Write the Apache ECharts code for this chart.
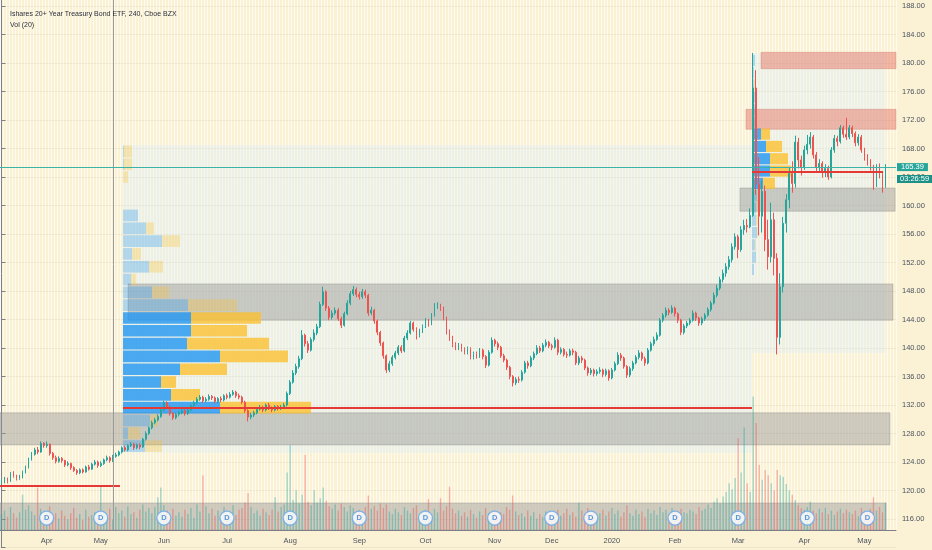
<!DOCTYPE html>
<html>
<head>
<meta charset="utf-8">
<title>TLT 240</title>
<script src="https://cdn.jsdelivr.net/npm/echarts@6.0.0/dist/echarts.min.js"></script>
<style>
    html, body { margin: 0; padding: 0; background: #fbf2d6; }
    #main__chart { width: 932px; height: 550px; }
</style>
</head>
<body>
<div id="main__chart"></div>
<script>
const TITLE = 'Ishares 20+ Year Treasury Bond ETF, 240, Cboe BZX';
const SUBTITLE = 'Vol (20)';
const LAST_PRICE = 165.39;
const COUNTDOWN = '03:26:59';
const FIRST_OPEN = 121.0;
const N_SLOTS = 298; // bars + empty space on the right

// x axis: month labels and the bar index where each month starts
const monthNames = ['Apr', 'May', 'Jun', 'Jul', 'Aug', 'Sep', 'Oct', 'Nov', 'Dec', '2020', 'Feb', 'Mar', 'Apr', 'May'];
const monthIdx = [15, 33, 54, 75, 96, 119, 141, 164, 183, 203, 224, 245, 267, 287];

// y axis ticks
const PRICE_MIN = 112;
const PRICE_MAX = 192;
const PRICE_STEP = 4;

const closes = [
    121.2,121.6,121.3,122.4,122.0,121.7,121.9,122.6,123.3,124.4,
    125.1,125.7,125.4,126.6,126.3,126.5,125.2,124.6,124.1,124.5,
    124.2,123.6,123.8,123.2,122.8,122.5,122.9,122.6,123.3,123.0,
    123.7,124.0,123.5,123.8,124.3,124.6,124.2,124.8,125.0,125.4,
    126.0,125.7,126.3,126.5,126.0,126.4,126.1,127.2,128.0,128.8,
    129.5,129.9,130.4,131.3,132.3,131.7,130.8,130.2,130.7,130.9,
    131.2,130.8,131.3,131.9,132.3,132.8,133.1,132.6,132.8,133.2,
    133.0,132.5,132.9,132.7,133.3,133.1,133.5,133.8,133.3,133.1,
    132.4,131.2,130.3,130.6,130.9,131.4,131.7,131.3,132.0,131.6,
    131.3,131.8,131.5,131.7,132.0,133.6,135.2,136.5,137.4,138.5,
    141.8,140.6,139.7,141.2,142.1,143.0,146.1,147.9,145.6,144.3,
    144.9,145.3,144.1,143.2,144.8,146.3,147.6,148.2,147.5,147.2,
    147.9,147.4,144.9,145.3,143.8,142.2,140.7,138.9,136.9,137.8,
    138.7,139.3,140.1,139.6,141.4,142.1,143.5,142.6,141.8,142.4,
    143.0,143.9,143.4,144.6,145.8,146.0,145.6,144.2,142.3,141.4,
    140.5,140.0,140.4,139.8,139.4,139.9,138.7,139.2,138.9,139.7,
    138.8,137.6,139.4,141.1,140.6,140.1,138.9,138.3,137.3,136.0,
    135.1,135.6,135.5,136.6,137.9,137.5,138.6,139.2,140.0,139.6,
    140.4,140.8,140.3,140.1,141.1,139.4,139.8,139.1,139.0,139.6,
    139.4,137.9,138.6,138.3,137.2,136.5,136.9,136.4,136.7,136.9,
    136.3,136.8,135.8,136.9,137.8,139.0,138.6,137.4,136.2,137.1,
    137.9,138.7,139.3,138.5,137.9,139.7,140.6,141.2,141.8,143.9,
    144.6,145.3,145.0,145.6,144.8,143.9,142.2,143.1,143.5,143.9,
    144.9,144.2,143.5,144.1,144.6,145.4,146.3,147.4,148.4,149.6,
    150.5,151.4,152.4,154.2,155.6,153.8,156.6,157.2,157.0,158.6,
    176.5,163.0,158.5,162.0,155.2,152.8,158.0,152.6,141.5,148.6,
    157.5,160.8,164.5,163.1,168.9,166.4,165.4,167.8,168.6,169.6,
    167.1,165.4,165.9,164.7,165.2,164.0,167.8,169.4,169.0,170.9,
    170.0,169.6,170.9,170.1,168.8,169.6,167.8,166.8,166.1,165.4,
    162.9,165.4,164.3,162.8,165.39
];

const highs = [
    121.6,121.9,121.8,122.6,122.7,122.2,122.2,122.8,123.5,124.6,
    125.4,126.0,126.1,126.9,126.8,126.9,126.6,125.4,124.9,124.8,
    124.7,124.3,124.1,123.9,123.4,123.0,123.1,123.1,123.5,123.6,
    123.9,124.3,124.2,124.1,124.5,124.9,124.8,125.0,125.3,125.6,
    126.2,126.3,126.5,126.8,126.7,126.6,126.6,127.4,128.3,129.0,
    129.8,130.2,130.7,131.6,132.6,132.5,131.9,131.0,130.9,131.2,
    131.5,131.4,131.6,132.1,132.6,133.1,133.4,133.3,133.1,133.5,
    133.4,133.2,133.1,133.2,133.5,133.6,133.8,134.1,134.0,133.6,
    133.3,132.6,131.4,130.9,131.2,131.7,132.0,131.9,132.2,132.3,
    131.8,132.0,132.0,132.0,132.3,133.9,135.5,136.9,137.8,138.9,
    142.5,142.0,141.0,141.5,142.6,143.4,146.5,148.6,148.1,145.9,
    145.3,145.7,145.6,144.4,145.1,146.7,148.0,148.7,148.5,147.9,
    148.3,148.2,147.6,145.8,145.5,144.0,142.4,140.9,139.1,138.2,
    139.0,139.6,140.4,140.4,141.7,142.5,143.8,143.7,142.9,142.7,
    143.3,144.2,144.1,144.9,146.3,146.4,146.2,145.8,144.4,142.6,
    141.7,140.8,140.7,140.6,140.1,140.2,140.1,139.5,139.5,140.0,
    139.9,139.0,139.7,141.5,141.3,140.9,140.3,139.2,138.5,137.5,
    136.2,135.9,136.0,136.9,138.2,138.2,138.9,139.5,140.4,140.3,
    140.7,141.2,141.0,140.6,141.5,141.3,140.1,140.0,139.5,139.9,
    139.9,139.6,138.9,138.9,138.5,137.4,137.2,137.1,137.0,137.3,
    137.1,137.1,137.0,137.2,138.1,139.4,139.3,138.8,137.6,137.4,
    138.2,139.0,139.7,139.5,138.8,140.0,140.9,141.6,142.2,144.2,
    144.9,145.7,145.6,146.0,145.8,145.0,144.1,143.4,143.8,144.2,
    145.3,145.1,144.4,144.4,144.9,145.7,146.6,147.8,148.9,150.0,
    151.0,151.9,152.9,154.7,156.1,155.9,157.1,158.0,158.1,159.6,
    181.4,179.0,166.8,163.5,162.8,158.0,160.4,159.0,153.3,150.5,
    158.4,161.6,165.3,166.2,169.8,169.5,167.0,168.4,169.9,170.3,
    169.9,167.5,166.5,166.2,165.8,165.6,168.2,169.9,169.8,171.3,
    171.2,172.3,171.3,171.2,170.4,170.0,169.9,168.1,167.2,166.5,
    165.7,165.8,165.9,164.6,165.8
];

const lows = [
    120.8,121.0,121.0,121.2,121.8,121.4,121.5,121.7,122.4,123.1,
    124.2,124.9,125.1,125.3,126.0,126.0,124.9,124.3,123.8,123.9,
    123.9,123.3,123.4,122.9,122.6,122.2,122.3,122.4,122.5,122.8,
    122.9,123.5,123.2,123.3,123.6,124.1,123.9,124.0,124.6,124.8,
    125.2,125.5,125.5,126.1,125.7,125.8,125.8,126.0,127.0,127.8,
    128.6,129.3,129.7,130.2,131.1,131.4,130.5,129.9,130.0,130.4,
    130.7,130.5,130.6,131.1,131.7,132.1,132.6,132.3,132.4,132.6,
    132.7,132.2,132.3,132.4,132.5,132.8,132.9,133.3,133.0,132.8,
    132.1,130.9,129.7,130.0,130.3,130.7,131.2,131.0,131.1,131.3,
    131.0,131.1,131.2,131.3,131.5,131.8,133.4,135.0,136.2,137.1,
    138.3,140.2,139.3,139.5,140.9,141.8,142.8,145.9,145.2,143.9,
    144.0,144.6,143.8,142.8,143.0,144.6,146.0,147.3,147.1,146.8,
    146.9,147.0,144.5,144.6,143.4,141.8,140.3,138.5,136.5,136.6,
    137.5,138.4,139.0,139.3,139.4,141.1,141.9,142.3,141.2,141.5,
    142.1,142.8,143.0,143.2,144.4,145.5,145.2,143.9,141.9,141.0,
    140.1,139.7,139.7,139.5,139.1,139.1,138.4,138.4,138.5,138.6,
    138.4,137.2,137.4,139.2,140.2,139.7,138.6,138.0,136.9,135.6,
    134.6,134.8,135.1,135.3,136.4,137.1,137.3,138.3,139.0,139.3,
    139.4,140.1,140.0,139.7,139.9,139.0,139.1,138.8,138.6,138.8,
    139.0,137.6,137.6,137.9,136.9,136.1,136.2,136.0,136.1,136.4,
    135.9,136.0,135.4,135.6,136.7,137.6,138.2,137.1,135.8,135.9,
    136.8,137.7,138.4,138.2,137.5,137.7,139.5,140.3,141.0,141.6,
    143.6,144.3,144.6,144.8,144.4,143.5,141.8,141.9,142.8,143.2,
    143.7,143.8,143.1,143.2,143.8,144.4,145.1,146.1,147.1,148.1,
    149.2,150.0,151.0,152.0,153.8,152.6,153.5,155.9,156.2,156.8,
    158.4,161.5,155.8,156.2,153.6,151.0,152.0,150.2,139.1,140.5,
    147.8,156.2,159.6,161.8,162.5,165.2,164.2,165.0,167.2,168.0,
    166.6,164.8,164.6,163.9,164.0,163.6,163.8,167.4,168.3,168.7,
    169.5,169.2,169.3,169.6,168.3,168.4,167.4,166.3,165.6,164.9,
    162.2,162.6,163.8,161.8,162.5
];

// volume, millions of shares
const volumes = [
    1.8,2.2,1.5,2.6,1.9,1.4,2.0,4.0,2.3,2.8,
    2.1,1.7,4.8,2.4,1.6,2.0,2.7,1.5,1.9,1.3,
    2.2,1.6,1.2,1.9,2.5,1.4,1.8,1.1,2.3,1.5,
    1.7,2.0,1.3,4.9,2.1,1.6,2.4,1.2,2.6,1.9,
    2.2,1.5,2.7,1.8,2.0,1.4,2.3,2.9,2.1,2.5,
    1.9,2.6,3.7,4.8,2.8,2.2,1.7,2.4,1.6,2.0,
    1.5,2.3,1.8,2.5,1.4,2.9,2.1,6.2,2.7,1.9,
    2.4,1.6,2.2,1.3,2.6,1.8,2.0,2.8,1.7,2.3,
    2.5,3.1,4.2,2.6,1.9,2.2,1.6,2.4,2.0,1.7,
    2.3,3.7,2.1,2.6,2.9,6.5,9.6,3.4,4.5,3.0,
    4.0,8.5,3.2,2.8,4.5,3.1,3.6,4.8,3.3,2.7,
    2.4,2.9,2.2,3.0,2.6,2.1,2.8,2.5,1.9,2.3,
    2.0,2.6,3.9,2.4,2.7,2.2,3.0,2.5,2.9,2.1,
    1.8,2.4,2.0,1.7,2.6,2.2,1.9,2.5,2.8,1.6,
    2.1,2.3,3.5,1.8,2.4,2.0,3.6,2.2,2.7,4.9,
    2.4,1.9,2.2,1.6,2.0,1.5,2.3,1.8,1.4,2.1,
    1.7,2.5,1.9,1.6,2.2,1.4,2.0,1.8,2.6,2.3,
    3.9,2.1,1.7,1.9,1.5,2.2,1.6,2.0,1.3,1.8,
    1.5,2.1,1.4,1.2,1.8,2.3,1.6,1.9,2.4,1.7,
    2.0,1.5,3.1,2.2,1.8,2.5,1.4,2.0,1.7,1.9,
    2.3,1.6,2.1,2.5,1.8,2.2,1.5,2.0,2.8,1.9,
    1.6,2.3,1.8,2.1,1.5,2.4,1.9,2.2,1.7,2.6,
    2.0,2.3,1.8,2.5,2.1,1.7,2.4,2.0,1.9,2.3,
    2.1,1.8,2.6,2.2,2.4,2.9,2.5,3.2,3.6,3.0,
    3.8,4.3,5.3,4.6,5.9,10.4,6.5,11.6,5.3,4.3,
    15.1,12.1,7.4,5.7,6.8,6.2,5.3,4.5,6.8,6.2,
    6.0,5.2,4.5,4.0,3.4,2.8,2.5,2.3,2.6,3.2,
    2.2,1.9,2.4,2.0,2.5,1.8,2.2,1.7,2.1,2.4,
    1.9,2.3,2.0,1.8,2.2,1.6,2.5,2.1,1.9,2.4,
    3.7,2.2,2.6,2.0,3.1
];
const VOL_MAX = 60;

// dividend markers (bar index)
const dividendIdx = [15, 33, 54, 75, 96, 119, 141, 164, 183, 196, 224, 245, 268, 288];

// fixed range volume profiles, rows from top to bottom
const vp1Up =   [1, 1, 0, 0, 0, 15, 23, 39, 9, 26, 8, 29, 65, 68, 68, 64, 97, 57, 38, 48, 97, 27, 5, 22];
const vp1Down = [8, 8, 5, 0, 0, 0, 8, 18, 9, 14, 5, 17, 49, 70, 56, 82, 68, 47, 15, 29, 91, 8, 12, 17];
const vp1ValueArea = [13, 20];
const vp2Up =   [3, 2, 2, 3, 3, 4, 9, 14, 18, 18, 11, 5, 4, 4, 5, 3, 4, 2];
const vp2Down = [0, 0, 1, 0, 1, 1, 9, 16, 18, 21, 12, 3, 1, 2, 1, 1, 0, 0];
const vp2ValueArea = [6, 10];

// drawings: [fromBar, toBar, topPrice, bottomPrice]
const rangeZones = [[40.4, 249.6, 168.5, 125.3], [249.6, 293.8, 181.4, 139.3]];
const grayZones = [
    [-0.5, 295.5, 130.9, 126.4],
    [42.1, 296.5, 149.0, 143.9],
    [245.6, 297.2, 162.45, 159.2],
    [-0.5, 294.2, 118.25, 114.45],
];
const redZones = [[252.6, 297.5, 181.5, 179.2], [247.6, 297.5, 173.5, 170.7]];
// [fromBar, toBar, price]
const redLines = [[-0.5, 39.4, 120.6], [40.4, 249.6, 131.55], [249.6, 293.2, 164.7]];
const crossBar = 37.1;

const UP = '#26a69a';
const DOWN = '#ef5350';
const FONT = 'Liberation Sans, Arial, sans-serif';
const TEXT_COLOR = '#4c525e';

$ready(function () {
    initMainChart();
});

function $ready(fn) {
    if (document.readyState !== 'loading') fn();
    else document.addEventListener('DOMContentLoaded', fn);
}

function zone(z, style) {
    return [{coord: [z[0], z[2]], itemStyle: style}, {coord: [z[1], z[3]]}];
}

function vpData(values, va, strong, pale) {
    return values.map((v, i) => ({
        value: v,
        itemStyle: {color: (i >= va[0] && i <= va[1]) ? strong : pale},
    }));
}

function initMainChart() {
    let chartDom = document.getElementById('main__chart');
    let myChart = echarts.init(chartDom, null, {renderer: 'canvas'});

    const slots = Array.from({length: N_SLOTS}, (_, i) => String(i));
    // each bar opens where the previous one closed
    const opens = closes.map((c, i) => i === 0 ? FIRST_OPEN : closes[i - 1]);
    const candles = closes.map((c, i) => [opens[i], c, lows[i], highs[i]]);
    const volData = volumes.map((v, i) => ({
        value: v,
        itemStyle: {color: closes[i] >= opens[i] ? 'rgba(38,166,154,0.42)' : 'rgba(239,83,80,0.42)'},
    }));

    const grayStyle = {color: 'rgba(150,150,148,0.46)', borderColor: 'rgba(120,120,120,0.3)', borderWidth: 1};
    const redStyle = {color: 'rgba(228,112,96,0.48)', borderColor: 'rgba(200,100,90,0.3)', borderWidth: 1};

    const lastPriceLine = [
        {
            coord: [-0.5, LAST_PRICE],
            lineStyle: {color: '#3bb3a6', width: 1, type: 'solid'},
            label: {
                show: true,
                position: 'end',
                distance: 1,
                formatter: `{e|${COUNTDOWN}}\n{a|${LAST_PRICE.toFixed(2)}}\n{b|${COUNTDOWN}}`,
                rich: {
                    e: {color: 'transparent', fontSize: 7.5, lineHeight: 12, padding: [0, 3]},
                    a: {color: '#fff', backgroundColor: UP, fontSize: 7.5, lineHeight: 12, padding: [0, 4], fontFamily: FONT},
                    b: {color: '#fff', backgroundColor: '#1e9187', fontSize: 7.5, lineHeight: 12, padding: [0, 3], fontFamily: FONT},
                },
            },
        },
        {coord: [N_SLOTS - 0.5, LAST_PRICE]},
    ];

    let option = {
        animation: false,
        backgroundColor: '#fbf2d6',
        textStyle: {fontFamily: FONT},
        title: {
            text: TITLE,
            subtext: SUBTITLE,
            left: 5,
            top: 4,
            itemGap: 1,
            textStyle: {fontSize: 7, fontWeight: 'normal', color: '#2a2e39', fontFamily: FONT, lineHeight: 10},
            subtextStyle: {fontSize: 7, color: '#2a2e39', fontFamily: FONT, lineHeight: 10},
        },
        grid: [
            {left: 0, right: 36, top: -22.5, bottom: 2.5, outerBoundsMode: 'none'},
            {left: 0, right: 36, top: 0, bottom: 20, outerBoundsMode: 'none'},
            {left: 123, top: 145, width: 400, height: 307.5, outerBoundsMode: 'none'},
            {left: 752, top: 54.2, width: 144, height: 221.4, outerBoundsMode: 'none'},
        ],
        xAxis: [
            {type: 'category', gridIndex: 0, data: slots, show: false},
            {type: 'value', gridIndex: 0, min: -0.5, max: N_SLOTS - 0.5, show: false},
            {
                type: 'category',
                gridIndex: 1,
                data: slots,
                axisLine: {lineStyle: {color: '#7d8089', width: 1}},
                axisTick: {show: false},
                axisLabel: {
                    interval: (i) => monthIdx.includes(i),
                    formatter: (value) => monthNames[monthIdx.indexOf(Number(value))] || '',
                    color: TEXT_COLOR,
                    fontSize: 7.5,
                    margin: 7,
                },
                splitLine: {show: true, interval: 0, lineStyle: {color: 'rgba(255,255,255,0.6)', width: 1}},
            },
            {type: 'value', gridIndex: 2, min: 0, max: 400, show: false},
            {type: 'value', gridIndex: 3, min: 0, max: 144, show: false},
        ],
        yAxis: [
            {
                type: 'value',
                gridIndex: 0,
                position: 'right',
                min: PRICE_MIN,
                max: PRICE_MAX,
                interval: PRICE_STEP,
                axisLine: {show: true, lineStyle: {color: '#7d8089'}},
                axisTick: {show: true, length: 4, lineStyle: {color: '#7d8089'}},
                axisLabel: {
                    color: TEXT_COLOR,
                    fontSize: 7.5,
                    margin: 6,
                    // lowest tick sits under the date scale, leave it blank
                    formatter: (v) => v <= PRICE_MIN ? '' : v.toFixed(2),
                },
                splitLine: {show: true, lineStyle: {color: 'rgba(190,175,140,0.2)'}},
            },
            {type: 'value', gridIndex: 1, min: 0, max: VOL_MAX, show: false},
            {type: 'category', gridIndex: 2, data: vp1Up.map((_, i) => i), inverse: true, show: false},
            {type: 'category', gridIndex: 3, data: vp2Up.map((_, i) => i), inverse: true, show: false},
        ],
        series: [
            {
                // profile ranges
                type: 'line',
                xAxisIndex: 1,
                yAxisIndex: 0,
                data: [],
                z: 1,
                markArea: {
                    silent: true,
                    data: rangeZones.map(z => zone(z, {color: 'rgba(210,238,255,0.28)'})),
                },
            },
            {
                name: 'Vol',
                type: 'bar',
                xAxisIndex: 2,
                yAxisIndex: 1,
                data: volData,
                barWidth: '45%',
                z: 2,
            },
            {
                type: 'bar', xAxisIndex: 3, yAxisIndex: 2, stack: 'vp1', barCategoryGap: '9%', z: 2,
                data: vpData(vp1Up, vp1ValueArea, 'rgba(33,150,243,0.8)', 'rgba(33,150,243,0.3)'),
            },
            {
                type: 'bar', xAxisIndex: 3, yAxisIndex: 2, stack: 'vp1', barCategoryGap: '9%', z: 2,
                data: vpData(vp1Down, vp1ValueArea, 'rgba(251,192,45,0.78)', 'rgba(251,192,45,0.3)'),
            },
            {
                type: 'bar', xAxisIndex: 4, yAxisIndex: 3, stack: 'vp2', barCategoryGap: '9%', z: 2,
                data: vpData(vp2Up, vp2ValueArea, 'rgba(33,150,243,0.8)', 'rgba(33,150,243,0.3)'),
            },
            {
                type: 'bar', xAxisIndex: 4, yAxisIndex: 3, stack: 'vp2', barCategoryGap: '9%', z: 2,
                data: vpData(vp2Down, vp2ValueArea, 'rgba(251,192,45,0.78)', 'rgba(251,192,45,0.3)'),
            },
            {
                name: 'TLT',
                type: 'candlestick',
                xAxisIndex: 0,
                yAxisIndex: 0,
                data: candles,
                barWidth: '45%',
                z: 3,
                itemStyle: {color: UP, color0: DOWN, borderColor: UP, borderColor0: DOWN, borderWidth: 1},
            },
            {
                // zones
                type: 'line',
                xAxisIndex: 1,
                yAxisIndex: 0,
                data: [],
                z: 4,
                markArea: {
                    silent: true,
                    data: grayZones.map(z => zone(z, grayStyle)).concat(redZones.map(z => zone(z, redStyle))),
                },
            },
            {
                // levels
                type: 'line',
                xAxisIndex: 1,
                yAxisIndex: 0,
                data: [],
                z: 5,
                markLine: {
                    silent: true,
                    symbol: ['none', 'none'],
                    label: {show: false},
                    lineStyle: {color: '#e53935', width: 2, type: 'solid'},
                    data: redLines.map(l => [{coord: [l[0], l[2]]}, {coord: [l[1], l[2]]}]).concat([
                        [
                            {coord: [crossBar, 114.45], lineStyle: {color: '#9a9a9a', width: 1}},
                            {coord: [crossBar, PRICE_MAX]},
                        ],
                        lastPriceLine,
                    ]),
                },
            },
            {
                name: 'Dividends',
                type: 'scatter',
                xAxisIndex: 2,
                yAxisIndex: 1,
                data: dividendIdx.map(i => [i, 1.35]),
                symbol: 'circle',
                symbolSize: 14,
                z: 6,
                itemStyle: {color: '#ffffff', borderColor: '#64a8ee', borderWidth: 1.3},
                label: {show: true, formatter: 'D', position: 'inside', color: '#2f80d8', fontSize: 7.5, fontWeight: 'bold'},
            },
        ],
    };

    option && myChart.setOption(option);
}
</script>
</body>
</html>
